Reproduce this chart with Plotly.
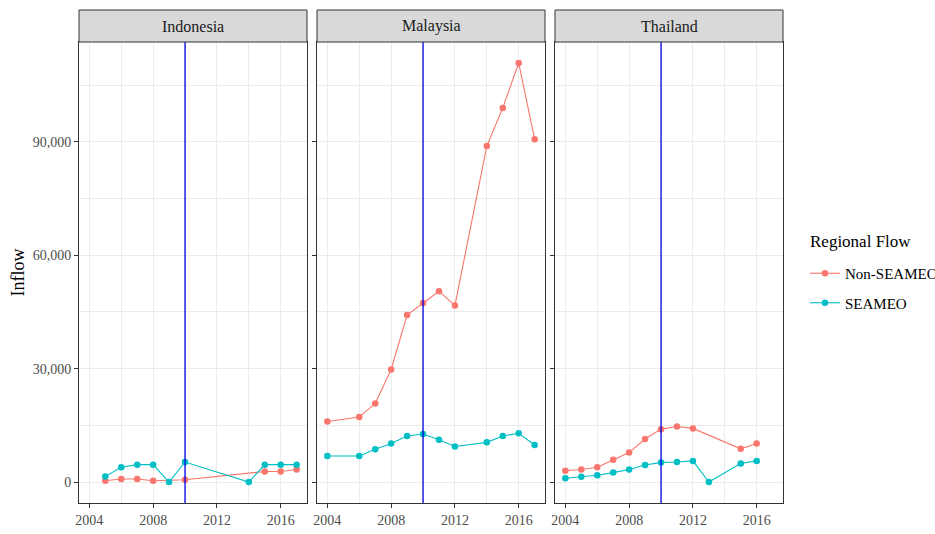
import plotly.graph_objects as go
from plotly.subplots import make_subplots

# ---- data -------------------------------------------------------------
countries = ["Indonesia", "Malaysia", "Thailand"]
series_names = ["Non-SEAMEO", "SEAMEO"]
series_colors = {"Non-SEAMEO": "#F8766D", "SEAMEO": "#00BFC4"}

idn_non_years = [2005, 2006, 2007, 2008, 2010, 2015, 2016, 2017]
idn_non_vals = [350, 800, 800, 350, 600, 2800, 2800, 3300]
idn_sea_years = [2005, 2006, 2007, 2008, 2009, 2010, 2014, 2015, 2016, 2017]
idn_sea_vals = [1500, 3900, 4600, 4600, 0, 5300, 0, 4600, 4600, 4600]

mys_years = [2004, 2006, 2007, 2008, 2009, 2010, 2011, 2012, 2014, 2015, 2016, 2017]
mys_non_vals = [16000, 17200, 20800, 29800, 44200, 47400, 50500, 46700, 88900, 99000, 110900, 90700]
mys_sea_vals = [6900, 6900, 8700, 10200, 12200, 12700, 11200, 9400, 10500, 12200, 12900, 9800]

tha_non_years = [2004, 2005, 2006, 2007, 2008, 2009, 2010, 2011, 2012, 2015, 2016]
tha_non_vals = [3000, 3300, 3900, 5900, 7800, 11400, 14000, 14700, 14200, 8800, 10200]
tha_sea_years = [2004, 2005, 2006, 2007, 2008, 2009, 2010, 2011, 2012, 2013, 2015, 2016]
tha_sea_vals = [1000, 1400, 1800, 2500, 3300, 4500, 5200, 5300, 5600, 0, 4900, 5600]

x_tick_vals = [2004, 2008, 2012, 2016]
y_tick_vals = [0, 30000, 60000, 90000]
y_tick_text = ["0", "30,000", "60,000", "90,000"]
policy_year = 2010

panels = {
    "Indonesia": {"Non-SEAMEO": (idn_non_years, idn_non_vals),
                  "SEAMEO": (idn_sea_years, idn_sea_vals)},
    "Malaysia": {"Non-SEAMEO": (mys_years, mys_non_vals),
                 "SEAMEO": (mys_years, mys_sea_vals)},
    "Thailand": {"Non-SEAMEO": (tha_non_years, tha_non_vals),
                 "SEAMEO": (tha_sea_years, tha_sea_vals)},
}

# ---- figure -----------------------------------------------------------
FONT = "Liberation Serif"
W, H = 935, 534
ML, MR, MT, MB = 79, 152, 10, 31
plot_w = W - ML - MR
plot_h = H - MT - MB
gap = 10 / plot_w
pw = (1 - 2 * gap) / 3
strip_h = 32 / plot_h

fig = make_subplots(rows=1, cols=3, shared_yaxes=True, horizontal_spacing=gap)

all_years = [y for c in countries for s in series_names for y in panels[c][s][0]]
all_vals = [v for c in countries for s in series_names for v in panels[c][s][1]]
x0, x1 = min(all_years), max(all_years)
y0, y1 = min(all_vals), max(all_vals)
xpad, ypad = 0.05 * (x1 - x0), 0.05 * (y1 - y0)

for ci, country in enumerate(countries, start=1):
    for s in series_names:
        yrs, vals = panels[country][s]
        fig.add_trace(
            go.Scatter(
                x=yrs, y=vals, mode="lines+markers", name=s,
                legendgroup=s, showlegend=(ci == 1),
                line=dict(color=series_colors[s], width=1.1),
                marker=dict(color=series_colors[s], size=6.5),
            ),
            row=1, col=ci,
        )
    fig.add_vline(x=policy_year, line=dict(color="#0000E6", width=1.3),
                  layer="above", row=1, col=ci)

axis_common = dict(
    showline=True, mirror=True, linecolor="#333333", linewidth=1,
    showgrid=True, gridcolor="#EBEBEB", gridwidth=1.1,
    ticks="outside", ticklen=4, tickcolor="#333333", tickwidth=1,
    tickfont=dict(family=FONT, size=14, color="#4D4D4D"),
    zeroline=False,
)

for ci in range(1, 4):
    xa = "xaxis" if ci == 1 else f"xaxis{ci}"
    d0 = (ci - 1) * (pw + gap)
    fig.layout[xa].update(
        domain=[d0, d0 + pw], range=[x0 - xpad, x1 + xpad],
        tickvals=x_tick_vals,
        minor=dict(dtick=2, tick0=2004, showgrid=True, gridcolor="#EBEBEB", gridwidth=0.6, ticks=""),
        **axis_common,
    )
    ya = "yaxis" if ci == 1 else f"yaxis{ci}"
    fig.layout[ya].update(
        domain=[0, 1 - strip_h], range=[y0 - ypad, y1 + ypad],
        tickvals=y_tick_vals, ticktext=y_tick_text,
        minor=dict(dtick=15000, tick0=0, showgrid=True, gridcolor="#EBEBEB", gridwidth=0.6, ticks=""),
        showticklabels=(ci == 1),
        **axis_common,
    )
    # facet strip
    fig.add_shape(type="rect", xref="paper", yref="paper",
                  x0=d0, x1=d0 + pw, y0=1 - strip_h, y1=1,
                  fillcolor="#D9D9D9", line=dict(color="#333333", width=1))
    fig.add_annotation(text=countries[ci - 1], xref="paper", yref="paper",
                       x=d0 + pw / 2, y=1 - strip_h / 2, showarrow=False,
                       xanchor="center", yanchor="middle",
                       font=dict(family=FONT, size=16, color="#1A1A1A"))

fig.layout.yaxis.update(title=dict(text="Inflow", standoff=3,
                                   font=dict(family=FONT, size=18, color="#000000")))

# legend heading
fig.add_annotation(text="Regional Flow", xref="paper", yref="paper",
                   x=(808 - ML) / plot_w, y=(H - MB - 241) / plot_h,
                   xanchor="left", yanchor="middle", showarrow=False,
                   font=dict(family=FONT, size=17, color="#000000"))

fig.update_layout(
    width=W, height=H,
    margin=dict(l=ML, r=MR, t=MT, b=MB, autoexpand=False),
    paper_bgcolor="white", plot_bgcolor="white",
    font=dict(family=FONT),
    legend=dict(
        font=dict(family=FONT, size=15, color="#000000"),
        x=(805 - ML) / plot_w, xanchor="left",
        y=(H - MB - 257) / plot_h, yanchor="top",
        tracegroupgap=7, bgcolor="rgba(0,0,0,0)",
    ),
)

fig.write_html("out.html")
